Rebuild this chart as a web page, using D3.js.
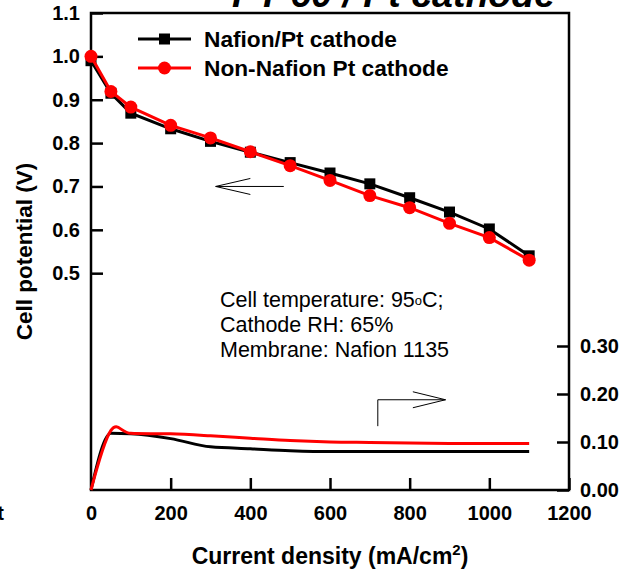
<!DOCTYPE html>
<meta charset="utf-8">
<style>
  body { margin: 0; background: #fff; }
  svg { font-family: "Liberation Sans", Arial, sans-serif; }
  .axis text { font-size: 20px; font-weight: bold; fill: #000; }
  .axis line { stroke: #000; stroke-width: 2.5; }
</style>
<body>
<svg width="624" height="569"></svg>

<script src="https://cdn.jsdelivr.net/npm/d3@7/dist/d3.min.js"></script>
<script>

// data
var current = [0, 50, 100, 200, 300, 400, 500, 600, 700, 800, 900, 1000, 1100];
var nafionV = [0.990, 0.915, 0.869, 0.833, 0.804, 0.779, 0.755, 0.731, 0.706, 0.674, 0.641, 0.602, 0.540];
var nonNafionV = [1.000, 0.919, 0.883, 0.841, 0.812, 0.780, 0.748, 0.714, 0.679, 0.651, 0.615, 0.582, 0.530];
var nafionR = [0, 0.118, 0.117, 0.107, 0.090, 0.086, 0.082, 0.080, 0.080, 0.080, 0.080, 0.080, 0.080];
var nonNafionR = [0, 0.124, 0.118, 0.117, 0.113, 0.108, 0.103, 0.100, 0.099, 0.098, 0.097, 0.097, 0.097];

var xTicks = [0, 200, 400, 600, 800, 1000, 1200];
var leftTicks = [0.5, 0.6, 0.7, 0.8, 0.9, 1.0, 1.1];
var rightTicks = [0, 0.1, 0.2, 0.3];
var seriesNames = ["Nafion/Pt cathode", "Non-Nafion Pt cathode"];
var noteLines = ["Cathode RH: 65%", "Membrane: Nafion 1135"];

var svg = d3.select("svg");

// scales
var x = d3.scaleLinear().domain([0, 1200]).range([91, 569]);
var yL = d3.scaleLinear().domain([0, 1.1]).range([490, 13]);
var yR = d3.scaleLinear().domain([0, 0.3]).range([490, 346]);

// title, cut off at top
svg.append("text")
    .attr("x", 232)
    .attr("y", 7)
    .style("font-size", "37.5px")
    .style("font-weight", "bold")
    .style("font-style", "italic")
    .text("PT-60 / Pt cathode");

// stray clipped glyph at left edge
svg.append("text")
    .attr("x", 4)
    .attr("y", 520)
    .attr("text-anchor", "end")
    .style("font-size", "20px")
    .style("font-weight", "bold")
    .text("t");

// frame
svg.append("rect")
    .attr("x", x(0))
    .attr("y", yL(1.1))
    .attr("width", x(1200) - x(0))
    .attr("height", yL(0) - yL(1.1))
    .attr("fill", "none")
    .attr("stroke", "#000")
    .attr("stroke-width", 2.5);

// axes
var gx = svg.append("g")
    .attr("class", "axis")
    .attr("transform", "translate(0," + yL(0) + ")")
    .call(d3.axisBottom(x).tickValues(xTicks).tickSizeInner(-12).tickSizeOuter(0)
        .tickPadding(16).tickFormat(d3.format("d")));
gx.select(".domain").remove();

var gl = svg.append("g")
    .attr("class", "axis")
    .attr("transform", "translate(" + x(0) + ",0)")
    .call(d3.axisLeft(yL).tickValues(leftTicks).tickSizeInner(-12).tickSizeOuter(0)
        .tickPadding(11).tickFormat(d3.format(".1f")));
gl.select(".domain").remove();

var gr = svg.append("g")
    .attr("class", "axis")
    .attr("transform", "translate(" + x(1200) + ",0)")
    .call(d3.axisRight(yR).tickValues(rightTicks).tickSizeInner(-12).tickSizeOuter(0)
        .tickPadding(11).tickFormat(d3.format(".2f")));
gr.select(".domain").remove();

// axis titles
var xt = svg.append("text")
    .attr("x", (x(0) + x(1200)) / 2)
    .attr("y", 564)
    .attr("text-anchor", "middle")
    .style("font-size", "23px")
    .style("font-weight", "bold");
xt.append("tspan").text("Current density (mA/cm");
xt.append("tspan").attr("dy", -9).style("font-size", "15px").text("2");
xt.append("tspan").attr("dy", 9).text(")");

svg.append("text")
    .attr("transform", "translate(32," + (yL(0) + yL(1.1)) / 2 + ") rotate(-90)")
    .attr("text-anchor", "middle")
    .style("font-size", "22.5px")
    .style("font-weight", "bold")
    .text("Cell potential (V)");

// polarization curves
var vLine = d3.line()
    .x(function(d) { return x(d[0]); })
    .y(function(d) { return yL(d[1]); });

var blackV = d3.zip(current, nafionV);
var redV = d3.zip(current, nonNafionV);

// resistance curves
var rLineBlack = d3.line()
    .curve(d3.curveMonotoneX)
    .x(function(d) { return x(d[0]); })
    .y(function(d) { return yR(d[1]); });
var rLineRed = d3.line()
    .curve(d3.curveCardinal.tension(0))
    .x(function(d) { return x(d[0]); })
    .y(function(d) { return yR(d[1]); });

svg.append("path")
    .datum(d3.zip(current, nafionR))
    .attr("fill", "none")
    .attr("stroke", "#000")
    .attr("stroke-width", 3)
    .attr("d", rLineBlack);

svg.append("path")
    .datum(d3.zip(current, nonNafionR))
    .attr("fill", "none")
    .attr("stroke", "#ff0000")
    .attr("stroke-width", 3)
    .attr("d", rLineRed);

svg.append("path")
    .datum(blackV)
    .attr("fill", "none")
    .attr("stroke", "#000")
    .attr("stroke-width", 3)
    .attr("d", vLine);

svg.selectAll(".sq")
    .data(blackV)
  .enter().append("rect")
    .attr("class", "sq")
    .attr("x", function(d) { return x(d[0]) - 5.5; })
    .attr("y", function(d) { return yL(d[1]) - 5.5; })
    .attr("width", 11)
    .attr("height", 11)
    .attr("fill", "#000");

svg.append("path")
    .datum(redV)
    .attr("fill", "none")
    .attr("stroke", "#ff0000")
    .attr("stroke-width", 3)
    .attr("d", vLine);

svg.selectAll(".dot")
    .data(redV)
  .enter().append("circle")
    .attr("class", "dot")
    .attr("cx", function(d) { return x(d[0]); })
    .attr("cy", function(d) { return yL(d[1]); })
    .attr("r", 6.5)
    .attr("fill", "#ff0000");

// legend
var legend = svg.append("g").attr("transform", "translate(138,39)");
seriesNames.forEach(function(name, i) {
  var g = legend.append("g").attr("transform", "translate(0," + i * 29 + ")");
  var col = i === 0 ? "#000" : "#ff0000";
  g.append("line").attr("x1", 0).attr("x2", 53).attr("stroke", col).attr("stroke-width", 3);
  if (i === 0) {
    g.append("rect").attr("x", 21).attr("y", -5.5).attr("width", 11).attr("height", 11).attr("fill", col);
  } else {
    g.append("circle").attr("cx", 26.5).attr("r", 6.5).attr("fill", col);
  }
  g.append("text")
      .attr("x", 66)
      .attr("y", 8)
      .style("font-size", "22.7px")
      .style("font-weight", "bold")
      .text(name);
});

// condition notes
var note = svg.append("text")
    .attr("x", 220)
    .attr("y", 307)
    .style("font-size", "21.5px");
note.append("tspan").text("Cell temperature: 95");
note.append("tspan").attr("dy", -2).style("font-size", "13px").text("o");
note.append("tspan").attr("dy", 2).text("C;");
noteLines.forEach(function(t, i) {
  svg.append("text")
      .attr("x", 220)
      .attr("y", 307 + (i + 1) * 25)
      .style("font-size", "21.5px")
      .text(t);
});

// arrows: left axis arrow and right axis arrow
var arrowG = svg.append("g")
    .attr("fill", "none")
    .attr("stroke", "#000")
    .attr("stroke-width", 1);
var ly = yL(0.7);
arrowG.append("path")
    .attr("d", "M" + x(484) + "," + ly + "H" + x(313)
        + "M" + x(400) + "," + (ly - 8) + "L" + x(313) + "," + ly + "L" + x(400) + "," + (ly + 8));
var ry = yR(0.188);
arrowG.append("path")
    .attr("d", "M" + x(720) + "," + yR(0.133) + "V" + ry + "H" + x(890)
        + "M" + x(808) + "," + (ry - 8) + "L" + x(890) + "," + ry + "L" + x(808) + "," + (ry + 8));

</script>
</body>
